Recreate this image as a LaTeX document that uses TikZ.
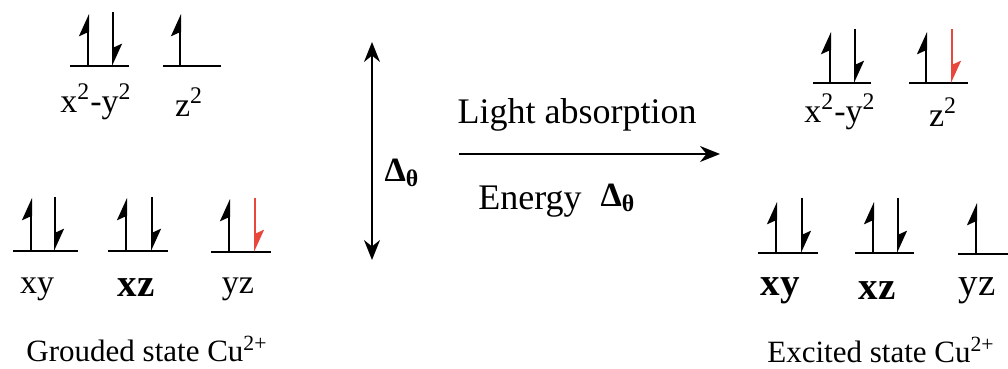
\documentclass[tikz,border=0pt]{standalone}
\usepackage{fontspec}
\setmainfont{Liberation Serif}
\usetikzlibrary{arrows.meta}
\definecolor{spinred}{HTML}{E8473B}

\begin{document}
\begin{tikzpicture}[x=0.5pt, y=-0.5pt,
  level/.style={line width=1pt},
  spin/.style={line width=1pt, -{Stealth[harpoon, length=10pt, width=9pt, inset=2pt]}},
  redspin/.style={spin, color=spinred},
  orb/.style={inner sep=0pt, font=\fontsize{17}{20}\selectfont},
  orbbf/.style={inner sep=0pt, font=\fontsize{19.5}{22}\selectfont\bfseries},
  caption/.style={inner sep=0pt, font=\fontsize{15.5}{20}\selectfont},
  delta/.style={inner sep=0pt, font=\fontsize{17}{20}\selectfont\bfseries},
  arrow/.style={line width=0.9pt, -{Stealth[length=10pt, width=8pt]}}
]
  \useasboundingbox (0,0) rectangle (1008,369);

  % ground state
  \draw[level] (70,66) -- (129,66);
  \draw[spin] (88,66) -- (88,14);
  \draw[spin] (113,12) -- (113,66);
  \draw[level] (163,66) -- (221,66);
  \draw[spin] (180,66) -- (180,14);
  \node[orb] (gx2y2) at (96,102) {x\textsuperscript{2}-y\textsuperscript{2}};
  \node[orb] (gz2)   at (189,102) {z\textsuperscript{2}};

  \draw[level] (13,251) -- (78,251);
  \draw[spin] (31,251) -- (31,198);
  \draw[spin] (55,197) -- (55,251);
  \draw[level] (108,251) -- (168,251);
  \draw[spin] (126,251) -- (126,198);
  \draw[spin] (152,197) -- (152,251);
  \draw[level] (211,252) -- (271,252);
  \draw[spin] (229,252) -- (229,199);
  \draw[redspin] (255,198) -- (255,252);
  \node[orb]   (gxy) at (37,289)  {xy};
  \node[orbbf] (gxz) at (136,288) {xz};
  \node[orb]   (gyz) at (238,289) {yz};
  \node[caption] (ground) at (147,349) {Grouded state Cu\textsuperscript{2+}};

  % splitting and transition
  \coordinate (dtop) at (372,42);
  \coordinate (dbot) at (372,260);
  \draw[arrow, {Stealth[length=10pt, width=8pt]}-{Stealth[length=10pt, width=8pt]}] (dtop) -- (dbot);
  \node[delta] (split) at (402,173) {Δ\textsubscript{θ}};

  \coordinate (hfrom) at (459,154);
  \coordinate (hto) at (720,154);
  \draw[arrow] (hfrom) -- (hto);
  \node[inner sep=0pt, font=\fontsize{18}{20}\selectfont] (light) at (577,115) {Light absorption};
  \node[inner sep=0pt, font=\fontsize{18}{20}\selectfont] (energy) at (530,202) {Energy};
  \node[delta] (gap) at (618,198) {Δ\textsubscript{θ}};

  % excited state
  \draw[level] (813,83) -- (871,83);
  \draw[spin] (830,83) -- (830,32);
  \draw[spin] (855,29) -- (855,83);
  \draw[level] (909,83) -- (968,83);
  \draw[spin] (926,83) -- (926,32);
  \draw[redspin] (952,29) -- (952,83);
  \node[orb] (ex2y2) at (840,112) {x\textsuperscript{2}-y\textsuperscript{2}};
  \node[orb] (ez2)   at (943,112) {z\textsuperscript{2}};

  \draw[level] (758,253) -- (818,253);
  \draw[spin] (776,253) -- (776,202);
  \draw[spin] (802,198) -- (802,253);
  \draw[level] (855,253) -- (914,253);
  \draw[spin] (873,253) -- (873,202);
  \draw[spin] (898,198) -- (898,253);
  \draw[level] (958,254) -- (1010,254);
  \draw[spin] (976,254) -- (976,203);
  \node[orbbf] (exy) at (780,291) {xy};
  \node[orbbf] (exz) at (877,291) {xz};
  \node[orb, font=\fontsize{19.5}{22}\selectfont] (eyz) at (977,291) {yz};
  \node[caption] (excited) at (881,350) {Excited state Cu\textsuperscript{2+}};
\end{tikzpicture}
\end{document}
